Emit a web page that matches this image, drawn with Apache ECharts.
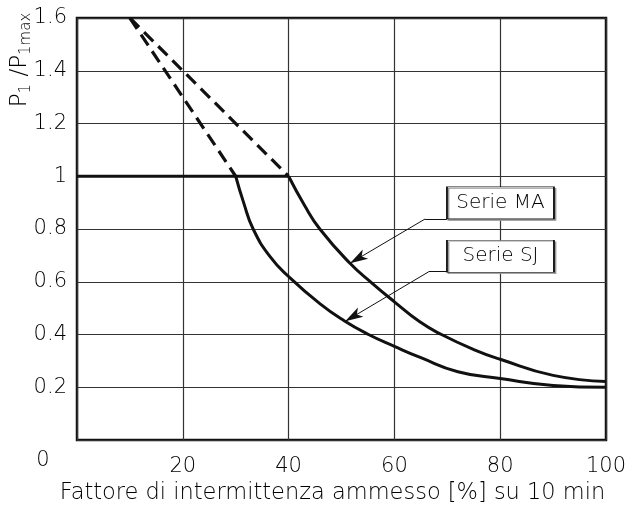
<!DOCTYPE html>
<html>
<head>
<meta charset="utf-8">
<script src="https://cdn.jsdelivr.net/npm/echarts@6/dist/echarts.min.js"></script>
<style>
  html, body { margin: 0; padding: 0; background: #fff; }
  #main { width: 626px; height: 506px; }
</style>
</head>
<body>
<div id="main"></div>
<script>
var chart = echarts.init(document.getElementById("main"));

// tick positions
var xTicks = [0, 20, 40, 60, 80, 100];
var yTicks = [0, 0.2, 0.4, 0.6, 0.8, 1, 1.2, 1.4, 1.6];

// curves [x %, P1/P1max]
var flatLine = [[0, 1], [40, 1]];
var maDashed = [[10, 1.6], [40, 1.0]];
var sjDashed = [[10, 1.6], [30, 1.0]];
var maSolid = [[40, 1], [43, 0.89], [45.9, 0.8], [51.6, 0.67], [55.7, 0.596], [60, 0.524], [64.8, 0.448], [68.9, 0.4], [75, 0.343], [80, 0.306], [90, 0.245], [100, 0.222]];
var sjSolid = [[30, 1], [31.5, 0.9], [33.3, 0.8], [36.5, 0.695], [40, 0.62], [45.9, 0.517], [50.5, 0.452], [55.1, 0.4], [60, 0.355], [65, 0.312], [72, 0.259], [80, 0.233], [90, 0.207], [100, 0.2]];

// annotation boxes and leader lines
var maLabel = "Serie MA";
var sjLabel = "Serie SJ";
var maBox = [80.05, 0.899];
var sjBox = [80.05, 0.697];
var maLeader = [[69.9, 0.838], [65.8, 0.838], [51.6, 0.67]];
var sjLeader = [[70.1, 0.638], [66.5, 0.638], [50.7, 0.45]];

var txt_font = "DejaVu Sans";
var txt_weight = 300;
var txt_color = '#000';

function leader(pts) {
    return [
        [{coord: pts[0], symbol: 'none'}, {coord: pts[1], symbol: 'none'}],
        [{coord: pts[1], symbol: 'none'}, {coord: pts[2], symbol: 'arrow', symbolSize: [8, 18]}]
    ];
}

function box(pos, text) {
    return {
        silent: true,
        data: [{
            coord: pos,
            symbol: 'rect',
            symbolSize: [107, 32],
            itemStyle: {
                color: '#fff', borderColor: '#111', borderWidth: 1,
                shadowColor: '#999', shadowOffsetX: 1.5, shadowOffsetY: 1.5, shadowBlur: 0
            },
            label: {
                show: true, position: 'inside', formatter: text,
                color: txt_color, fontSize: 20, fontFamily: txt_font, fontWeight: txt_weight
            }
        }]
    };
}

var option = {
    animation: false,
    backgroundColor: '#fff',
    grid: {
        left: 77, right: 20, top: 18, bottom: 66,
        outerBoundsMode: 'none',
        show: true, borderColor: '#111', borderWidth: 2.5, backgroundColor: 'transparent'
    },
    xAxis: {
        type: 'value',
        min: xTicks[0], max: xTicks[xTicks.length - 1], interval: 20,
        name: 'Fattore di intermittenza ammesso [%] su 10 min',
        nameLocation: 'middle', nameGap: 35,
        nameTextStyle: { fontSize: 22.5, fontFamily: txt_font, fontWeight: txt_weight, color: txt_color, padding: [0, 18, 0, 0] },
        axisLine: { show: false },
        axisTick: { show: false },
        axisLabel: {
            margin: 16, fontSize: 21, fontFamily: txt_font, fontWeight: txt_weight, color: txt_color,
            formatter: function (v) { return v === 0 ? '' : v; }
        },
        splitLine: { show: true, lineStyle: { color: '#333', width: 1.2 } }
    },
    yAxis: {
        type: 'value',
        min: yTicks[0], max: yTicks[yTicks.length - 1], interval: 0.2,
        axisLine: { show: false },
        axisTick: { show: false },
        axisLabel: {
            margin: 10, fontSize: 21, fontFamily: txt_font, fontWeight: txt_weight, color: txt_color,
            formatter: function (v) { return v === 0 ? '' : +v.toFixed(1); }
        },
        splitLine: { show: true, lineStyle: { color: '#333', width: 1.2 } }
    },
    graphic: [
        {
            type: 'text', x: 43, y: 461,
            style: { text: '0', fontSize: 21, fontFamily: txt_font, fontWeight: txt_weight, fill: txt_color, textAlign: 'center', textVerticalAlign: 'middle' }
        },
        {
            type: 'text', x: 20, y: 60, rotation: Math.PI / 2,
            style: {
                text: '{m|P}{s|1}{m| /P}{s|1max}',
                textAlign: 'center', textVerticalAlign: 'middle',
                rich: {
                    m: { fontSize: 23, fontFamily: txt_font, fontWeight: txt_weight, fill: txt_color },
                    s: { fontSize: 15, fontFamily: txt_font, fontWeight: txt_weight, fill: txt_color, padding: [12, 0, 0, 0] }
                }
            }
        }
    ],
    series: [
        {
            type: 'line', data: flatLine, symbol: 'none',
            lineStyle: { color: '#111', width: 3 }
        },
        {
            type: 'line', data: maDashed, symbol: 'none',
            lineStyle: { color: '#111', width: 3.2, type: [13, 7] }
        },
        {
            type: 'line', data: sjDashed, symbol: 'none',
            lineStyle: { color: '#111', width: 3.2, type: [13, 7] }
        },
        {
            type: 'line', data: maSolid, symbol: 'none', smooth: 0.5,
            lineStyle: { color: '#111', width: 3 },
            markLine: {
                silent: true, label: { show: false },
                lineStyle: { color: '#111', width: 1, type: 'solid' },
                data: leader(maLeader)
            },
            markPoint: box(maBox, maLabel)
        },
        {
            type: 'line', data: sjSolid, symbol: 'none', smooth: 0.5,
            lineStyle: { color: '#111', width: 3 },
            markLine: {
                silent: true, label: { show: false },
                lineStyle: { color: '#111', width: 1, type: 'solid' },
                data: leader(sjLeader)
            },
            markPoint: box(sjBox, sjLabel)
        }
    ]
};

chart.setOption(option);
</script>
</body>
</html>
